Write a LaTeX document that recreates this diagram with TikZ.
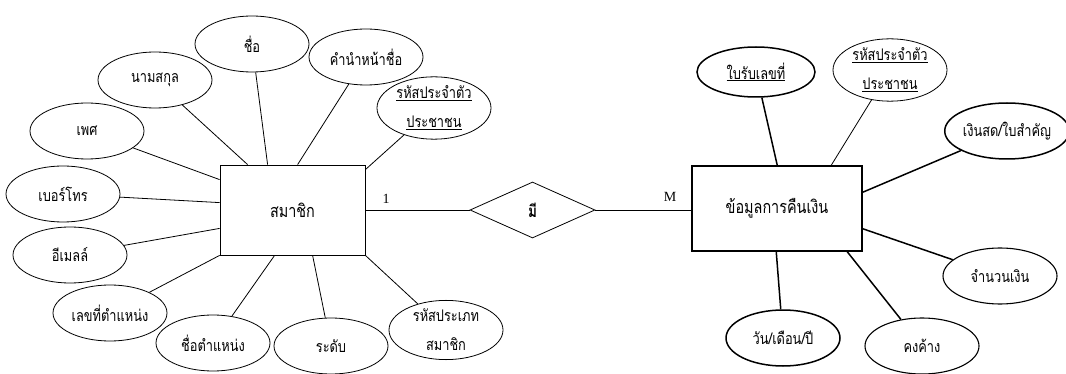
\documentclass[tikz,border=0pt]{standalone}
\usepackage{fontspec}
\usetikzlibrary{shapes.geometric}
\newfontfamily\thaifont[Script=Thai,FakeStretch=0.8]{Loma}
\setmainfont{Liberation Serif}
\begin{document}
\begin{tikzpicture}[x=1pt,y=-1pt,
  attr/.style={draw,ellipse,inner sep=0pt,minimum width=114pt,minimum height=56pt,align=center,font=\thaifont\fontsize{16}{29}\selectfont},
  thk/.style={line width=1.5pt},
  ent/.style={draw,rectangle,inner sep=0pt,font=\thaifont\fontsize{18}{20}\selectfont},
  rel/.style={draw,diamond,inner sep=0pt,minimum width=125pt,minimum height=56pt,aspect=2.2,font=\thaifont\bfseries\fontsize{17}{19}\selectfont},
  card/.style={inner sep=0pt,font=\fontsize{14}{16}\selectfont},
  conn/.style={line width=0.8pt},
  connk/.style={line width=1.5pt}]
\useasboundingbox (0,0) rectangle (1066,374);
% entities
\node[ent,line width=0.8pt,minimum width=145pt,minimum height=90pt] (mem) at (292.5,210) {สมาชิก};
\node[ent,thk,minimum width=170pt,minimum height=85pt] (ret) at (777,208.5) {ข้อมูลการคืนเงิน};
\node[rel,line width=0.8pt] (has) at (532.5,210) {มี};
\node[card] (c1) at (386,199) {1};
\node[card] (cm) at (670,197) {M};
% left attributes
\node[attr,line width=0.8pt] (a1) at (252,44) {ชื่อ};
\node[attr,line width=0.8pt] (a2) at (155,80) {นามสกุล};
\node[attr,line width=0.8pt] (a3) at (366,57) {คำนำหน้าชื่อ};
\node[attr,line width=0.8pt] (a4) at (434,108) {\underline{รหัสประจำตัว}\\\underline{ประชาชน}};
\node[attr,line width=0.8pt] (a5) at (87,131) {เพศ};
\node[attr,line width=0.8pt] (a6) at (63,194) {เบอร์โทร};
\node[attr,line width=0.8pt] (a7) at (70,255) {อีเมลล์};
\node[attr,line width=0.8pt] (a8) at (110,313) {เลขที่ตำแหน่ง};
\node[attr,line width=0.8pt] (a9) at (213,343) {ชื่อตำแหน่ง};
\node[attr,line width=0.8pt] (a10) at (331,346) {ระดับ};
\node[attr,line width=0.8pt] (a11) at (446,330) {รหัสประเภท\\สมาชิก};
% right attributes
\node[attr,thk,minimum width=118pt,minimum height=50pt] (b1) at (756,72) {\underline{ใบรับเลขที่}};
\node[attr,line width=0.8pt,minimum height=54pt] (b2) at (890,70) {\underline{รหัสประจำตัว}\\\underline{ประชาชน}};
\node[attr,thk,minimum width=118pt] (b3) at (1007,131) {เงินสด/ใบสำคัญ};
\node[attr,line width=1.1pt] (b4) at (1000,276) {จำนวนเงิน};
\node[attr,line width=1.1pt] (b5) at (922,346) {คงค้าง};
\node[attr,thk] (b6) at (783,338) {วัน/เดือน/ปี};
% anchor points on entity borders
\coordinate (m1) at ([xshift=48pt]mem.north west);
\coordinate (m2) at ([xshift=28pt]mem.north west);
\coordinate (m3) at ([xshift=78pt]mem.north west);
\coordinate (m4) at ([yshift=-5pt]mem.north east);
\coordinate (m5) at ([yshift=-15pt]mem.north west);
\coordinate (m6) at ([yshift=-38pt]mem.north west);
\coordinate (m7) at ([yshift=27pt]mem.south west);
\coordinate (m8) at (mem.south west);
\coordinate (m9) at ([xshift=55pt]mem.south west);
\coordinate (m10) at ([xshift=93pt]mem.south west);
\coordinate (m11) at (mem.south east);
\coordinate (r0) at (has.east -| ret.west);
\coordinate (r1) at ([xshift=86pt]ret.north west);
\coordinate (r2) at ([xshift=140pt]ret.north west);
\coordinate (r3) at ([yshift=-27pt]ret.north east);
\coordinate (r4) at ([yshift=23pt]ret.south east);
\coordinate (r5) at ([xshift=156pt]ret.south west);
\coordinate (r6) at ([xshift=85pt]ret.south west);
% connectors
\draw[conn] (mem) -- (has);
\draw[conn] (has.east) -- (r0);
\draw[conn] (a1) -- (m1);
\draw[conn] (a2) -- (m2);
\draw[conn] (a3) -- (m3);
\draw[conn] (a4) -- (m4);
\draw[conn] (a5) -- (m5);
\draw[conn] (a6) -- (m6);
\draw[conn] (a7) -- (m7);
\draw[conn] (a8) -- (m8);
\draw[conn] (a9) -- (m9);
\draw[conn] (a10) -- (m10);
\draw[conn] (a11) -- (m11);
\draw[connk] (b1) -- (r1);
\draw[conn] (b2) -- (r2);
\draw[connk] (b3) -- (r3);
\draw[connk] (b4) -- (r4);
\draw[connk] (b5) -- (r5);
\draw[connk] (b6) -- (r6);
\end{tikzpicture}
\end{document}
